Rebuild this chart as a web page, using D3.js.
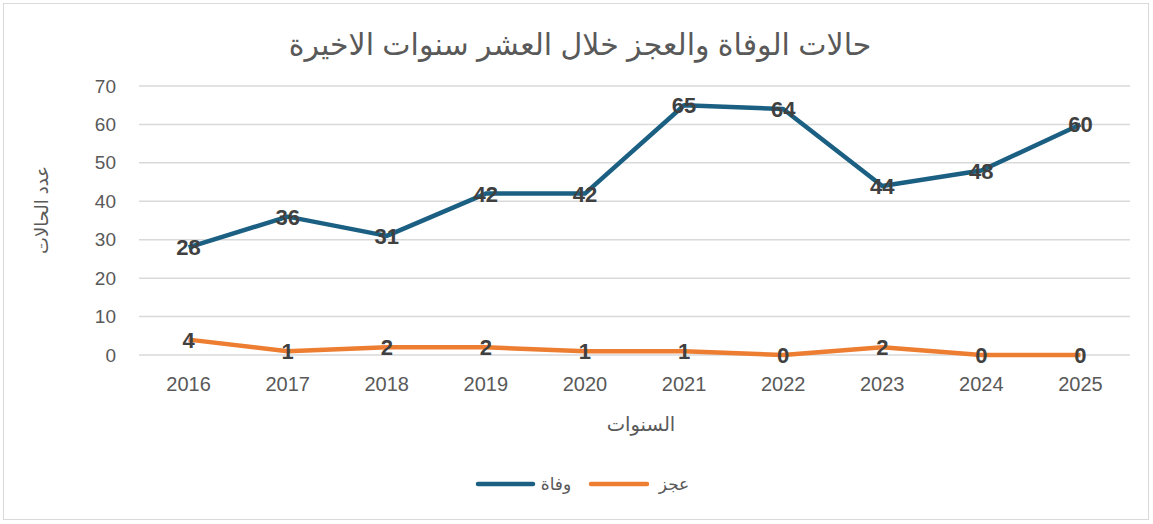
<!DOCTYPE html>
<html><head><meta charset="utf-8">
<script src="https://cdn.jsdelivr.net/npm/d3@7"></script>
<style>body{margin:0;background:#fff}text{font-family:"Liberation Sans","DejaVu Sans",Arial,sans-serif}</style>
</head><body><svg id="c" width="1153" height="524"></svg>
<script>
const years = ["2016","2017","2018","2019","2020","2021","2022","2023","2024","2025"];
const deaths = [28,36,31,42,42,65,64,44,48,60];
const disability = [4,1,2,2,1,1,0,2,0,0];
const yTicks = [0,10,20,30,40,50,60,70];
const seriesNames = ["وفاة","عجز"];
const colors = ["#1B6083","#ED7D31"];

(function(){
const svg = d3.select("#c");
svg.append("rect").attr("x",3.5).attr("y",3.5).attr("width",1145).attr("height",516)
  .attr("fill","#fff").attr("stroke","#d9d9d9");

const pl=139, pr=1130, pt=86, pb=355;
const x = d3.scaleBand().domain(years).range([pl,pr]);
const y = d3.scaleLinear().domain([0,70]).range([pb,pt]);

svg.append("g").selectAll("line").data(yTicks).join("line")
  .attr("x1",pl).attr("x2",pr).attr("y1",d=>y(d)).attr("y2",d=>y(d))
  .attr("stroke","#d9d9d9").attr("stroke-width",1.5);

const yAxis = svg.append("g").attr("transform",`translate(${pl-6},0)`)
  .call(d3.axisLeft(y).tickValues(yTicks).tickSize(0).tickPadding(17));
yAxis.select(".domain").remove();
yAxis.selectAll("text").attr("fill","#595959").style("font-size","19px");

const xAxis = svg.append("g").attr("transform",`translate(0,${pb})`)
  .call(d3.axisBottom(x).tickSize(0).tickPadding(22));
xAxis.select(".domain").remove();
xAxis.selectAll("text").attr("fill","#595959").style("font-size","20px");

const cx = d=>x(d)+x.bandwidth()/2;
const line = d3.line().x((d,i)=>cx(years[i])).y(d=>y(d));
[deaths,disability].forEach((s,k)=>{
  svg.append("path").datum(s).attr("d",line).attr("fill","none")
    .attr("stroke",colors[k]).attr("stroke-width",4.5).attr("stroke-linejoin","round");
});
[deaths,disability].forEach((s,k)=>{
  svg.append("g").selectAll("text").data(s).join("text")
    .attr("x",(d,i)=>cx(years[i])).attr("y",d=>y(d)+8)
    .attr("text-anchor","middle").attr("fill","#404040")
    .style("font-size","22px").style("font-weight","bold").text(d=>d);
});

svg.append("text").attr("x",580).attr("y",55).attr("text-anchor","middle")
  .attr("fill","#595959").style("font-size","30px").text("حالات الوفاة والعجز خلال العشر سنوات الاخيرة");
svg.append("text").attr("transform","translate(48,210) rotate(-90)").attr("text-anchor","middle")
  .attr("fill","#595959").style("font-size","18px").text("عدد الحالات");
svg.append("text").attr("x",641).attr("y",431).attr("text-anchor","middle")
  .attr("fill","#595959").style("font-size","19.5px").text("السنوات");

const leg = [{n:seriesNames[0],c:colors[0],x1:478,x2:533,tx:556},{n:seriesNames[1],c:colors[1],x1:591,x2:647,tx:674}];
leg.forEach(l=>{
  svg.append("line").attr("x1",l.x1).attr("x2",l.x2).attr("y1",484).attr("y2",484)
    .attr("stroke",l.c).attr("stroke-width",4.5).attr("stroke-linecap","round");
  svg.append("text").attr("x",l.tx).attr("y",490).attr("text-anchor","middle")
    .attr("fill","#595959").style("font-size","17px").text(l.n);
});
})();
</script></body></html>
